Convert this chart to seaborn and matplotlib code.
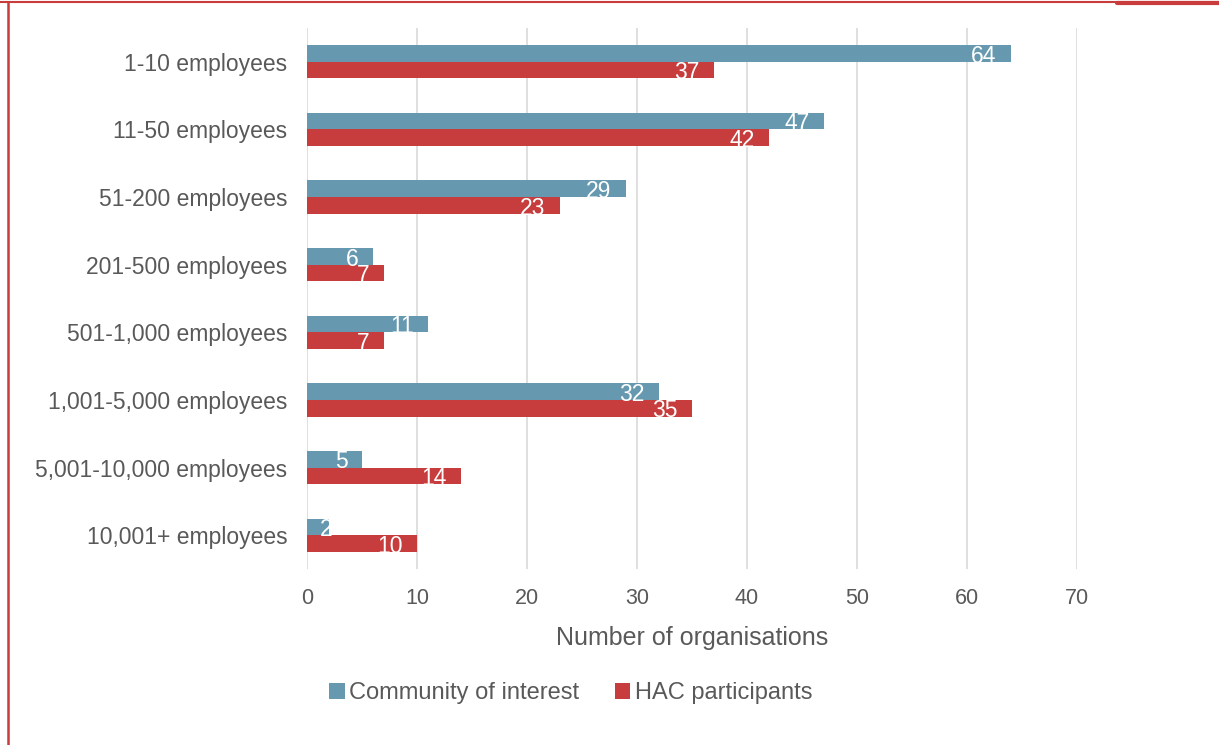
import matplotlib
matplotlib.use("Agg")
import matplotlib.pyplot as plt
from matplotlib.lines import Line2D
from matplotlib.patches import Patch
import seaborn as sns
import pandas as pd

categories = ["1-10 employees", "11-50 employees", "51-200 employees",
              "201-500 employees", "501-1,000 employees", "1,001-5,000 employees",
              "5,001-10,000 employees", "10,001+ employees"]
community = [64, 47, 29, 6, 11, 32, 5, 2]
hac = [37, 42, 23, 7, 7, 35, 14, 10]
series_names = ["Community of interest", "HAC participants"]
colors = ["#6699B0", "#C73D3D"]
xticks = [0, 10, 20, 30, 40, 50, 60, 70]

df = pd.DataFrame({
    "category": categories * 2,
    "value": community + hac,
    "series": [series_names[0]] * len(categories) + [series_names[1]] * len(categories),
})

sns.set_theme(style="white")
plt.rcParams["font.family"] = ["Liberation Sans", "DejaVu Sans"]
TXT = "#595959"

fig = plt.figure(figsize=(12.19, 7.45), dpi=100)
ax = fig.add_axes([307 / 1219, 1 - 569 / 745, (1077 - 307) / 1219, (569 - 28) / 745])

sns.barplot(data=df, y="category", x="value", hue="series", order=categories,
            hue_order=series_names, palette=colors, orient="h", width=0.49,
            gap=0, saturation=1, ax=ax, legend=False, linewidth=0)

ax.set_xlim(0, 70)
ax.set_xticks(xticks)
ax.set_xticklabels([str(t) for t in xticks])
ax.grid(axis="x", color="#D9D9D9", linewidth=1.2)
ax.set_axisbelow(True)
for s in ax.spines.values():
    s.set_visible(False)
ax.tick_params(axis="both", length=0, colors=TXT)
ax.tick_params(axis="y", labelsize=16.5, pad=14)
ax.tick_params(axis="x", labelsize=15.5, pad=14)
ax.set_ylabel("")
ax.set_xlabel("Number of organisations", fontsize=18, color=TXT, labelpad=12)

# data labels (inside end, white)
for i, vals in enumerate([community, hac]):
    off = -0.1225 if i == 0 else 0.1225
    for j, v in enumerate(vals):
        xpos = max(v - 1.3, 2.3)
        ax.text(xpos, j + off + 0.04, str(v), ha="right", va="center",
                color="white", fontsize=16.5)

handles = [Patch(facecolor=c, edgecolor="none") for c in colors]
fig.legend(handles, series_names, loc="center", bbox_to_anchor=(571 / 1219, 1 - 693 / 745),
           ncol=2, frameon=False, fontsize=17, labelcolor=TXT, handlelength=0.65,
           handleheight=0.65, handletextpad=0.2, columnspacing=1.5)

# frame lines (red border of the surrounding box)
red = "#C83C3C"
fig.add_artist(Line2D([0, 1], [1 - 2 / 745, 1 - 2 / 745], color=red, linewidth=1.5,
                      transform=fig.transFigure))
fig.add_artist(Line2D([7.5 / 1219, 7.5 / 1219], [0, 1 - 2 / 745], color=red, linewidth=1.8,
                      transform=fig.transFigure))
fig.add_artist(Line2D([1117 / 1219, 1], [1 - 3 / 745, 1 - 3 / 745], color=red, linewidth=3,
                      transform=fig.transFigure))

fig.savefig("out.png", dpi=100, facecolor="white")
